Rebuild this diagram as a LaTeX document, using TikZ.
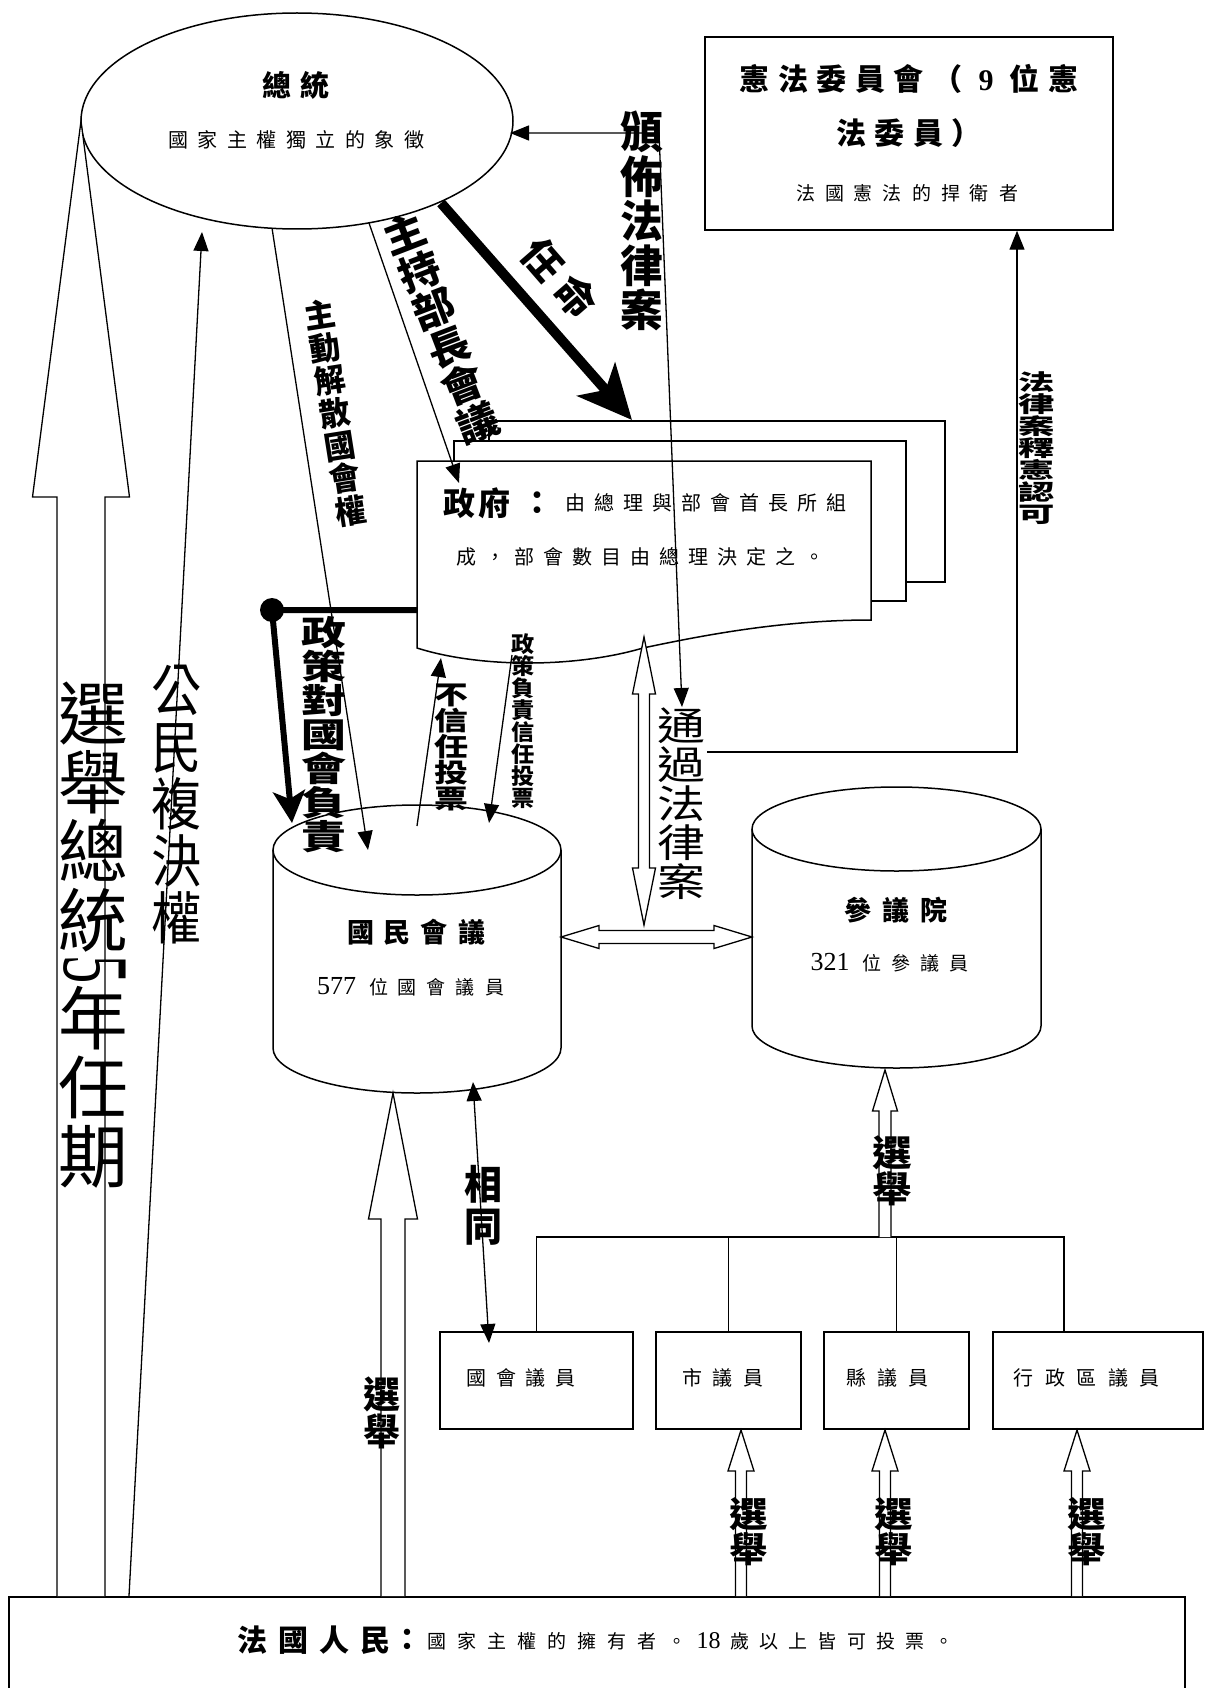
\documentclass[tikz,border=0pt]{standalone}
\usepackage{fontspec}
\setmainfont{Noto Sans CJK TC}
\newfontfamily\lat{Liberation Serif}
\usetikzlibrary{arrows.meta,shapes.geometric}
\makeatletter
\newcommand\spcd[2]{\@tfor\spcd@c:=#2\do{\makebox[#1]{\spcd@c}}}
\makeatother
\newcommand\myfnt[3]{\fontsize{#1pt}{#2pt}\selectfont\addfontfeature{FakeStretch=#3}\lineskiplimit=-200pt\relax}
% hollow single arrow pointing up: x, ytip, ybase, ybottom, headhalf, shafthalf
\newcommand\harrowup[6]{\draw[hollow] ({#1-#6},#4) -- ({#1-#6},#3) -- ({#1-#5},#3) -- (#1,#2) -- ({#1+#5},#3) -- ({#1+#6},#3) -- ({#1+#6},#4);}
% hollow vertical double arrow: x, ytop, ybot, headlen, headhalf, shafthalf
\newcommand\harrowvd[6]{\draw[hollow] (#1,#2) -- ({#1+#5},{#2+#4}) -- ({#1+#6},{#2+#4}) -- ({#1+#6},{#3-#4}) -- ({#1+#5},{#3-#4}) -- (#1,#3) -- ({#1-#5},{#3-#4}) -- ({#1-#6},{#3-#4}) -- ({#1-#6},{#2+#4}) -- ({#1-#5},{#2+#4}) -- cycle;}
% hollow horizontal double arrow: y, xleft, xright, headlen, headhalf, shafthalf
\newcommand\harrowhd[6]{\draw[hollow] (#2,#1) -- ({#2+#4},{#1-#5}) -- ({#2+#4},{#1-#6}) -- ({#3-#4},{#1-#6}) -- ({#3-#4},{#1-#5}) -- (#3,#1) -- ({#3-#4},{#1+#5}) -- ({#3-#4},{#1+#6}) -- ({#2+#4},{#1+#6}) -- ({#2+#4},{#1+#5}) -- cycle;}
\tikzset{
  ln/.style={line width=1.3pt},
  bx/.style={draw, line width=1.5pt, inner sep=0pt},
  pg/.style={draw, fill=white, line width=1.5pt},
  tri/.style={-{Triangle[length=19pt,width=15pt]}},
  tri2/.style={{Triangle[length=19pt,width=15pt]}-{Triangle[length=19pt,width=15pt]}},
  hollow/.style={draw, fill=white, line width=1.3pt, line join=miter},
  lab/.style={inner sep=0pt, align=center},
}
\begin{document}
\begin{tikzpicture}[x=1pt,y=-1pt]
\useasboundingbox (0,0) rectangle (1205,1688);
\clip (0,0) rectangle (1205,1688);
\fill[white] (0,0) rectangle (1205,1688);

% ---------- President ----------
\node[ellipse, draw, line width=1.5pt, minimum width=432pt, minimum height=216pt, inner sep=0pt] (pres) at (297,121) {};
\node[lab, font=\bfseries\myfnt{29}{30}{1}] (presT) at (296,85) {\spcd{39pt}{總統}};
\node[lab, font=\myfnt{20}{22}{1}] (presS) at (296,140) {\spcd{29.5pt}{國家主權獨立的象徵}};

% ---------- Constitutional council ----------
\node[bx, minimum width=408pt, minimum height=193pt] (cc) at (909,133.5) {};
\node[lab, font=\bfseries\myfnt{30}{32}{1}] (ccT1) at (909,79) {\spcd{38.6pt}{憲法委員會（{\lat 9}位憲}};
\node[lab, font=\bfseries\myfnt{30}{32}{1}] (ccT2) at (909,133) {\spcd{38.6pt}{法委員）}};
\node[lab, font=\myfnt{19}{22}{1}] (ccT3) at (907,193) {\spcd{29pt}{法國憲法的捍衛者}};

% ---------- Government (multi-document) ----------
\draw[pg] (489,421) rectangle (945,582);
\draw[pg] (454,441) rectangle (906,601);
\draw[pg] (417,461) -- (871,461) -- (871,620) .. controls (780,620) and (700,636) .. (643,648) .. controls (575,668) and (480,668) .. (417,648) -- cycle;
\node[lab, font=\bfseries\myfnt{32}{34}{1}] (govT) at (477,503) {\spcd{36pt}{政府}};
\node[lab, font=\bfseries\myfnt{32}{34}{1}] (govC) at (537,503) {：};
\node[lab, anchor=west, font=\myfnt{20}{22}{1}] (govL1) at (561,503) {\spcd{29pt}{由總理與部會首長所組}};
\node[lab, anchor=west, font=\myfnt{20}{22}{1}] (govL2) at (452,557) {\spcd{29pt}{成，部會數目由總理決定之。}};

% ---------- National Assembly cylinder ----------
\draw[line width=1.5pt, fill=white] (273,850) -- (273,1048) arc[start angle=180, end angle=360, x radius=144pt, y radius=45pt] -- (561,850);
\draw[line width=1.5pt] (417,850) ellipse [x radius=144pt, y radius=45pt];
\node[lab, font=\bfseries\myfnt{27}{30}{1}] (naT) at (416,932) {\spcd{37pt}{國民會議}};
\node[lab, font=\myfnt{19}{22}{1}] (naS) at (413,987) {{\lat\fontsize{26pt}{28pt}\selectfont 577}\hspace{8pt}\spcd{29pt}{位國會議員}};

% ---------- Senate cylinder ----------
\draw[line width=1.5pt, fill=white] (752,829) -- (752,1026) arc[start angle=180, end angle=360, x radius=144.5pt, y radius=42pt] -- (1041,829);
\draw[line width=1.5pt] (896.5,829) ellipse [x radius=144.5pt, y radius=42pt];
\node[lab, font=\bfseries\myfnt{27}{30}{1}] (senT) at (896,910) {\spcd{38pt}{參議院}};
\node[lab, font=\myfnt{19}{22}{1}] (senS) at (892,963) {{\lat\fontsize{26pt}{28pt}\selectfont 321}\hspace{8pt}\spcd{29pt}{位參議員}};

% ---------- Bottom boxes ----------
\node[bx, minimum width=193pt, minimum height=97pt] (b1) at (536.5,1380.5) {};
\node[bx, minimum width=145pt, minimum height=97pt] (b2) at (728.5,1380.5) {};
\node[bx, minimum width=145pt, minimum height=97pt] (b3) at (896.5,1380.5) {};
\node[bx, minimum width=210pt, minimum height=97pt] (b4) at (1098,1380.5) {};
\node[lab, anchor=west, font=\myfnt{20}{22}{1}] (b1T) at (462,1378) {\spcd{29.5pt}{國會議員}};
\node[lab, anchor=west, font=\myfnt{20}{22}{1}] (b2T) at (677,1378) {\spcd{30.5pt}{市議員}};
\node[lab, anchor=west, font=\myfnt{20}{22}{1}] (b3T) at (841,1378) {\spcd{31pt}{縣議員}};
\node[lab, anchor=west, font=\myfnt{20}{22}{1}] (b4T) at (1008,1378) {\spcd{31.5pt}{行政區議員}};

% tree
\coordinate (tR) at (1064,1237);
\coordinate (tS) at (885,1237);
\draw[ln] (b1.north) |- (tR) -- (tR |- b4.north);
\draw[ln] (b2.north) -- (b2.north |- tR);
\draw[ln] (b3.north) -- (b3.north |- tR);

% ---------- People box ----------
\node[bx, minimum width=1176pt, minimum height=124pt, anchor=north west] (ppl) at (8,1596) {};
\node[lab, anchor=west, font=\bfseries\myfnt{30}{32}{1}] (pplT) at (232,1640) {\spcd{41pt}{法國人民}};
\node[lab, font=\bfseries\myfnt{30}{32}{1}] (pplC) at (407,1640) {：};
\node[lab, anchor=west, font=\myfnt{19}{22}{1}] (pplS) at (422,1641) {\spcd{30pt}{國家主權的擁有者。}\makebox[33pt]{\lat\fontsize{24pt}{26pt}\selectfont 18}\spcd{29.2pt}{歲以上皆可投票。}};

% ---------- Connectors ----------
\coordinate (pubE) at (510,133);
\coordinate (pubC) at (659,133);
\coordinate (pubT) at (682,707);
\draw[ln, tri2] (pubE) -- (pubC) -- (pubT);

\coordinate (apS) at (441,203);
\coordinate (apT) at (632,420);
\draw[line width=10pt, -{Stealth[length=54pt,width=50pt,inset=14pt]}] (apS) -- (apT);

\coordinate (chS) at (369,223);
\coordinate (chT) at (459,483);
\draw[ln, tri] (chS) -- (chT);

\coordinate (diS) at (272,228);
\coordinate (diT) at (368,850);
\draw[ln, tri] (diS) -- (diT);

\coordinate (refS) at (129,1596);
\coordinate (refT) at (202,232);
\draw[ln, tri] (refS) -- (refT);

\coordinate (polS) at (417,610);
\coordinate (polD) at (272,610);
\coordinate (polT) at (292,823);
\draw[line width=6pt, -{Stealth[length=32pt,width=32pt,inset=8pt]}] (polS) -- (polD) -- (polT);
\fill (polD) circle (12pt);

\coordinate (ncS) at (417,826);
\coordinate (ncT) at (441,658);
\draw[ln, tri] (ncS) -- (ncT);

\coordinate (cfS) at (512,655);
\coordinate (cfT) at (489,823);
\draw[ln, tri] (cfS) -- (cfT);

\coordinate (lawS) at (707,752);
\coordinate (lawC) at (1017,752);
\draw[ln, tri] (lawS) -- (lawC) -- (cc.south -| lawC);

\coordinate (smA) at (473,1082);
\coordinate (smB) at (489,1343);
\draw[ln, tri2] (smA) -- (smB);

% ---------- Hollow arrows ----------
\harrowup{81}{121}{497}{1596}{48.5}{24}
\harrowup{393}{1093}{1219}{1596}{24.5}{12}
\harrowup{885}{1070}{1111}{1237}{12.5}{6}
\harrowup{741}{1430}{1471}{1596}{13}{5.5}
\harrowup{885}{1430}{1471}{1596}{13}{5.5}
\harrowup{1077}{1430}{1471}{1596}{13}{5.5}
\harrowvd{644}{637}{925}{57}{11.5}{5.5}
\harrowhd{937}{561}{752}{38}{11.5}{6.5}

% ---------- Labels ----------
\node[lab, font=\bfseries\myfnt{44}{44.4}{0.97}] (tPub) at (642,221) {頒\\佈\\法\\律\\案};
\node[lab, font=\bfseries\myfnt{22}{21.9}{1.65}] (tRev) at (1037,448) {法\\律\\案\\釋\\憲\\認\\可};
\node[lab, font=\bfseries\myfnt{40}{40.5}{1.05}, rotate=21] (tCh) at (441,328) {主\\持\\部\\長\\會\\議};
\node[lab, font=\bfseries\myfnt{40}{40}{1}, rotate=-49] (tApp) at (560,278) {\spcd{50pt}{任命}};
\node[lab, font=\bfseries\myfnt{32}{33}{0.97}, rotate=9] (tDis) at (335,413) {主\\動\\解\\散\\國\\會\\權};
\node[lab, font=\bfseries\myfnt{34}{34}{1.32}] (tPol) at (324,735) {政\\策\\對\\國\\會\\負\\責};
\node[lab, font=\bfseries\myfnt{26}{26}{1.3}] (tNo) at (451,747) {不\\信\\任\\投\\票};
\node[lab, font=\bfseries\myfnt{22}{22}{1.05}] (tConf) at (523,721) {政\\策\\負\\責\\信\\任\\投\\票};
\node[lab, font=\myfnt{39}{39}{1.23}] (tPass) at (681,804) {通\\過\\法\\律\\案};
\node[lab, font=\myfnt{69}{69}{1.01}] (tEl1) at (93,817) {選\\舉\\總\\統};
\node[lab, font=\lat\fontsize{94pt}{94pt}\selectfont\addfontfeature{FakeStretch=0.6}, rotate=-90] (tEl5) at (95,970) {5};
\node[lab, font=\myfnt{69}{69}{1.01}] (tEl2) at (93,1087) {年\\任\\期};
\node[lab, font=\myfnt{57}{57}{0.88}] (tRef) at (177,805) {公\\民\\複\\決\\權};
\node[lab, font=\bfseries\myfnt{40}{42}{0.95}] (tSame) at (483,1205) {相\\同};
\node[lab, font=\bfseries\myfnt{37}{37}{1}] (tE0) at (382,1413) {選\\舉};
\node[lab, font=\bfseries\myfnt{36}{36}{1.1}] (tE1) at (892,1171) {選\\舉};
\node[lab, font=\bfseries\myfnt{35}{35}{1.1}] (tE2) at (748.5,1532) {選\\舉};
\node[lab, font=\bfseries\myfnt{35}{35}{1.1}] (tE3) at (893.5,1532) {選\\舉};
\node[lab, font=\bfseries\myfnt{35}{35}{1.1}] (tE4) at (1086.5,1532) {選\\舉};
\end{tikzpicture}
\end{document}
